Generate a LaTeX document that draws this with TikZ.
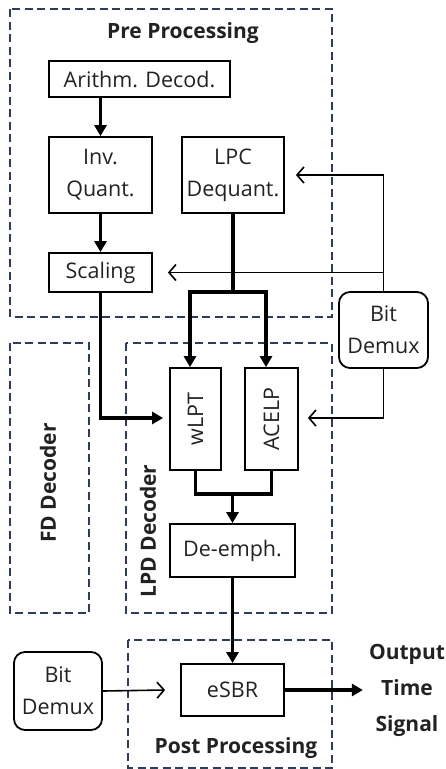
\documentclass[tikz,border=0pt]{standalone}
\usepackage{fontspec}
\setmainfont{Open Sans}
\usetikzlibrary{arrows.meta}
\definecolor{dashc}{HTML}{2F3D5C}
\definecolor{txt}{HTML}{222222}
\begin{document}
\begin{tikzpicture}[x=1pt,y=-1pt,
  blk/.style={draw, line width=1.8pt, inner sep=0pt, align=center, text=txt,
    font=\fontsize{21.5}{32}\selectfont},
  rblk/.style={blk, rounded corners=11pt},
  grp/.style={draw=dashc, line width=1.5pt, dash pattern=on 8pt off 4.5pt},
  title/.style={inner sep=0pt, text=txt, font=\fontsize{21}{36}\selectfont\bfseries, align=center},
  thk/.style={line width=3.4pt},
  thn/.style={line width=1.6pt},
  fat/.style={-{Triangle[length=11pt,width=12pt]}},
  opn/.style={-{Straight Barb[length=7pt,width=16pt,line width=1.6pt]}}
]
\useasboundingbox (0,0) rectangle (445,769);
% groups
\draw[grp] (10,9) rectangle (332,317);
\draw[grp] (10,343) rectangle (89,613);
\draw[grp] (126,343) rectangle (332,613);
\draw[grp] (128,640) rectangle (332,768);
\node[title] (tpre) at (183,33) {Pre Processing};
\node[title, rotate=90] (tfd) at (48,483) {FD Decoder};
\node[title, rotate=90] (tlpd) at (148,531) {LPD Decoder};
\node[title] (tpost) at (236,748) {Post Processing};
% blocks
\node[blk, minimum width=181pt, minimum height=36pt] (arith) at (139.5,79) {Arithm. Decod.};
\node[blk, minimum width=103pt, minimum height=76pt] (invq) at (100.5,175) {Inv.\\Quant.};
\node[blk, minimum width=102pt, minimum height=76pt] (lpc) at (233,175) {LPC\\Dequant.};
\node[blk, minimum width=103pt, minimum height=39pt] (scal) at (100.5,272.5) {Scaling};
\node[blk, minimum width=102pt, minimum height=51pt, rotate=90] (wlpt) at (195.5,419) {wLPT};
\node[blk, minimum width=102pt, minimum height=53pt, rotate=90] (acelp) at (271.5,419) {ACELP};
\node[blk, minimum width=125pt, minimum height=53pt] (deemph) at (232.5,550.5) {De-emph.};
\node[blk, minimum width=103pt, minimum height=52pt] (esbr) at (232.5,690) {eSBR};
\node[rblk, minimum width=89pt, minimum height=76pt] (bd1) at (383.5,330) {Bit\\Demux};
\node[rblk, minimum width=88pt, minimum height=78pt] (bd2) at (58,691) {Bit\\Demux};
\node[title] (out) at (407,690) {Output\\Time\\Signal};
% junction coordinates
\coordinate (jl) at (190,292);
\coordinate (jr) at (266,292);
\coordinate (jb) at (0,494);
\coordinate (js) at (0,418);
% connectors
\draw[thk,fat] (invq.north |- arith.south) -- (invq.north);
\draw[thk,fat] (invq.south) -- (scal.north);
\draw[thk] (lpc.south) -- (lpc.south |- jl);
\draw[thk,{Triangle[length=11pt,width=12pt]}-{Triangle[length=11pt,width=12pt]}]
  (jl |- wlpt.east) -- (jl) -- (jr) -- (jr |- acelp.east);
\draw[thk,fat] (scal.south) -- (scal.south |- js) -- ([xshift=-6pt]wlpt.north |- js);
\draw[thn,opn] (bd1.north) -- (bd1.north |- lpc.east) -- ([xshift=11pt]lpc.east);
\draw[thn,opn] (bd1.north |- scal.east) -- ([xshift=15pt]scal.east);
\draw[thn,opn] (bd1.south) -- (bd1.south |- js) -- ([xshift=9pt]acelp.south |- js);
\draw[thk] (wlpt.west) -- (wlpt.west |- jb) -- (acelp.west |- jb) -- (acelp.west);
\draw[thk,fat] (deemph.north |- jb) -- (deemph.north);
\draw[thk,fat] (deemph.south) -- (esbr.north);
\draw[thn,opn] (bd2.east) -- ([xshift=-15pt]esbr.west);
\draw[thk,fat] (esbr.east) -- ([xshift=-6pt]out.west);
\end{tikzpicture}
\end{document}
